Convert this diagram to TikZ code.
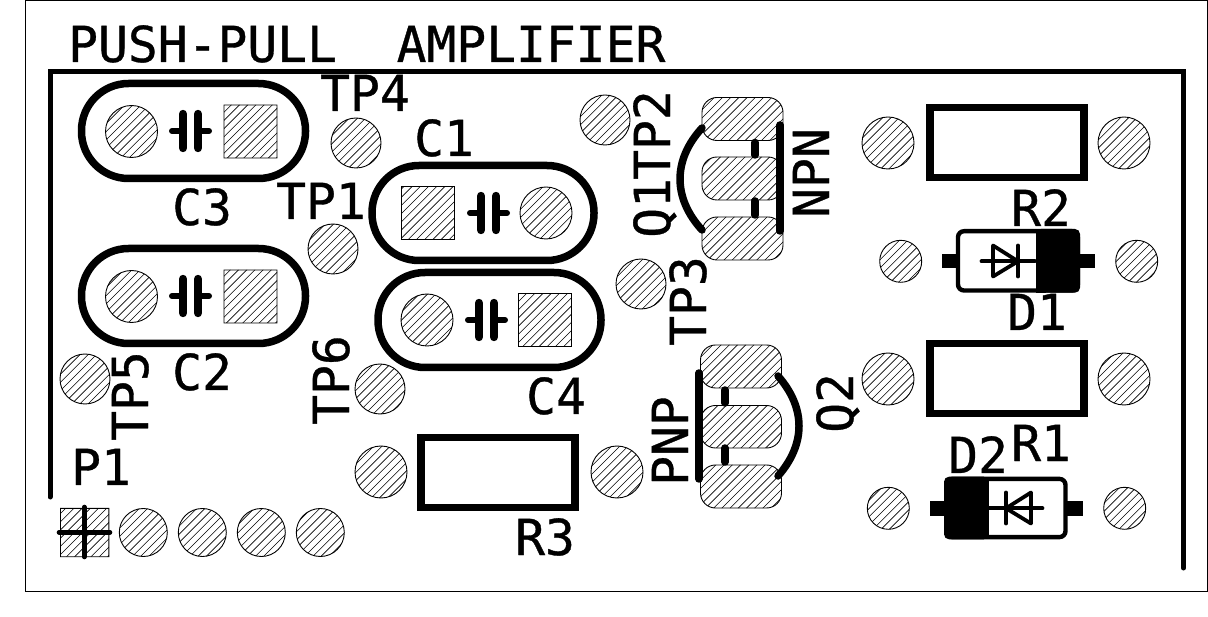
\documentclass[tikz,border=0pt]{standalone}
\usepackage{fontspec}
\setmainfont{DejaVu Sans Mono}[FakeBold=0.7]
\tikzset{
  silk/.style={line width=7.5pt,line cap=round,line join=round},
  thinsilk/.style={line width=3.8pt,line cap=round,line join=round},
  padedge/.style={draw=black,line width=0.9pt},
  hatchline/.style={black,line width=0.6pt},
  lbl/.style={anchor=base west,inner sep=0pt,font=\fontsize{49.6}{50}\selectfont\addfontfeature{FakeBold=0.7}},
  vlbl/.style={lbl,rotate=90},
}
\newcommand{\rpad}[3]{(#1,#2) circle[radius=#3]}
\newcommand{\qpad}[3]{(#1-#3,#2-#3) rectangle (#1+#3,#2+#3)}
\newcommand{\opad}[3]{[rounded corners=15pt] (#1,#2) rectangle (#1+81,#3) [sharp corners]}
\newcommand{\capsym}[2]{%
  \draw[line width=8.4pt,line cap=round] (#1-8,#2-17) -- (#1-8,#2+17);
  \draw[line width=8.4pt,line cap=round] (#1+7,#2-17) -- (#1+7,#2+17);
  \draw[line width=6pt,line cap=round] (#1-19,#2) -- (#1-8,#2);
  \draw[line width=6pt,line cap=round] (#1+7,#2) -- (#1+18,#2);}
\newcommand{\capoutline}[4]{\draw[silk,rounded corners=47pt] (#1,#3) rectangle (#2,#4);}
\newcommand{\allpads}{
  \rpad{131.5}{131.5}{26} \qpad{250.5}{131.5}{26.5}
  \rpad{131.5}{296.5}{26} \qpad{250.5}{296.5}{26.5}
  \qpad{428}{213}{26.5} \rpad{546}{213}{26}
  \rpad{427}{320}{26} \qpad{545}{320}{26.5}
  \rpad{356}{143}{25} \rpad{605}{120}{25} \rpad{333}{249}{25}
  \rpad{641}{284}{25} \rpad{85}{379}{25} \rpad{380}{389}{25}
  \opad{702}{97.5}{140.5} \opad{702}{157}{200} \opad{702}{217}{260}
  \opad{700.5}{345}{388} \opad{700.5}{405.5}{448} \opad{700.5}{465}{508}
  \rpad{888}{143}{26} \rpad{1124}{143}{26}
  \rpad{888}{379}{26} \rpad{1124}{379}{26}
  \rpad{381}{472}{26} \rpad{617}{472}{26}
  \rpad{900.7}{261.3}{21} \rpad{1136.7}{261.3}{21}
  \rpad{888.3}{508.3}{21} \rpad{1124.7}{508.3}{21}
  \qpad{84.7}{532.5}{24.2}
  \rpad{143.3}{532.5}{24} \rpad{202.3}{532.5}{24} \rpad{261.3}{532.5}{24} \rpad{320.3}{532.5}{24}
}
\begin{document}
\begin{tikzpicture}[x=1pt,y=-1pt]
\useasboundingbox (0,0) rectangle (1208,617);
\fill[white] (0,0) rectangle (1208,617);
% board edge
\draw[line width=1pt] (25.5,1) -- (1207.5,1) -- (1207.5,591) -- (25.5,591) -- cycle;
% silk outline
\draw[line width=5pt,line cap=round,line join=miter] (50,497) -- (50,72) -- (1183.5,72) -- (1183.5,568);
% pads: hatch clipped to all pad shapes, then their edges
\begin{scope}
  \clip \allpads;
  \foreach \k in {10,...,220} {
    \draw[hatchline] ({8.2*\k},0) -- ({8.2*\k-617},617);
  }
\end{scope}
\path[padedge] \allpads;
% title
\node[lbl] at (68,62) {PUSH-PULL\ \ AMPLIFIER};
% capacitors
\capsym{191}{131}\capoutline{81.5}{305.5}{83.5}{178.5}
\capsym{191}{296}\capoutline{81.5}{305.5}{248.5}{343.5}
\capsym{489}{213}\capoutline{372}{594}{165.5}{260.5}
\capsym{487}{320}\capoutline{378}{601}{272.5}{367.5}
% Q1
\draw[silk] (780,125) -- (780,231);
\draw[silk] (755,142.5) -- (755,155);
\draw[silk] (755,201) -- (755,215);
\draw[silk] (702,128) .. controls (672.7,160) and (672.7,198) .. (702,230);
% Q2
\draw[silk] (699,373) -- (699,479);
\draw[silk] (725,390) -- (725,403);
\draw[silk] (725,448) -- (725,462);
\draw[silk] (778,376) .. controls (806,408) and (806,444) .. (778,476);
% resistors
\draw[silk,line cap=butt,line join=miter] (930,107.5) rectangle (1084,177.5);
\draw[silk,line cap=butt,line join=miter] (930,343.5) rectangle (1084,413.5);
\draw[silk,line cap=butt,line join=miter] (421,437.5) rectangle (575,507.5);
% D1
\fill (942,254) rectangle (958,268.5);
\fill (1078,254) rectangle (1095,268.5);
\draw[line width=4.4pt,rounded corners=6pt] (958,231.2) rectangle (1077.8,290.5);
\fill[rounded corners=5pt] (1036,229) -- (1080,229) -- (1080,292.7) -- (1036,292.7) -- cycle;
\fill (1036,229) rectangle (1046,292.7);
\draw[thinsilk] (981.5,261.3) -- (1035,261.3);
\draw[thinsilk] (993,245.5) -- (993,276.5) -- (1018,261.3) -- cycle;
\draw[thinsilk] (1018,245.5) -- (1018,276.5);
% D2
\fill (930,501) rectangle (946,515.5);
\fill (1065.5,501) rectangle (1082.7,515.5);
\draw[line width=4.4pt,rounded corners=6pt] (946.2,478.9) rectangle (1065.5,537.1);
\fill[rounded corners=5pt] (944,476.7) -- (988.7,476.7) -- (988.7,539.3) -- (944,539.3) -- cycle;
\fill (978,476.7) rectangle (988.7,539.3);
\draw[thinsilk] (989,508.3) -- (1042.5,508.3);
\draw[thinsilk] (1031,492.5) -- (1031,523.5) -- (1006,508.3) -- cycle;
\draw[thinsilk] (1006,492.5) -- (1006,523.5);
% P1 cross
\draw[line width=4.6pt,line cap=round] (59,532.3) -- (110,532.3);
\draw[line width=4.6pt,line cap=round] (84.3,507) -- (84.3,557);
% labels
\node[lbl] at (320,111) {TP4};
\node[lbl] at (414,156) {C1};
\node[lbl] at (172,225) {C3};
\node[lbl] at (276,219) {TP1};
\node[lbl] at (172,390) {C2};
\node[lbl] at (526,414) {C4};
\node[lbl] at (71,485) {P1};
\node[lbl] at (515,555) {R3};
\node[lbl] at (1011,226) {R2};
\node[lbl] at (1007,330) {D1};
\node[lbl] at (1011,461) {R1};
\node[lbl] at (948,473) {D2};
\node[vlbl] at (148,441) {TP5};
\node[vlbl] at (349,425) {TP6};
\node[vlbl] at (706,346) {TP3};
\node[vlbl] at (670,180) {TP2};
\node[vlbl] at (670,238) {Q1};
\node[vlbl] at (829,218) {NPN};
\node[vlbl] at (688,486) {PNP};
\node[vlbl] at (853,433) {Q2};
\end{tikzpicture}
\end{document}
